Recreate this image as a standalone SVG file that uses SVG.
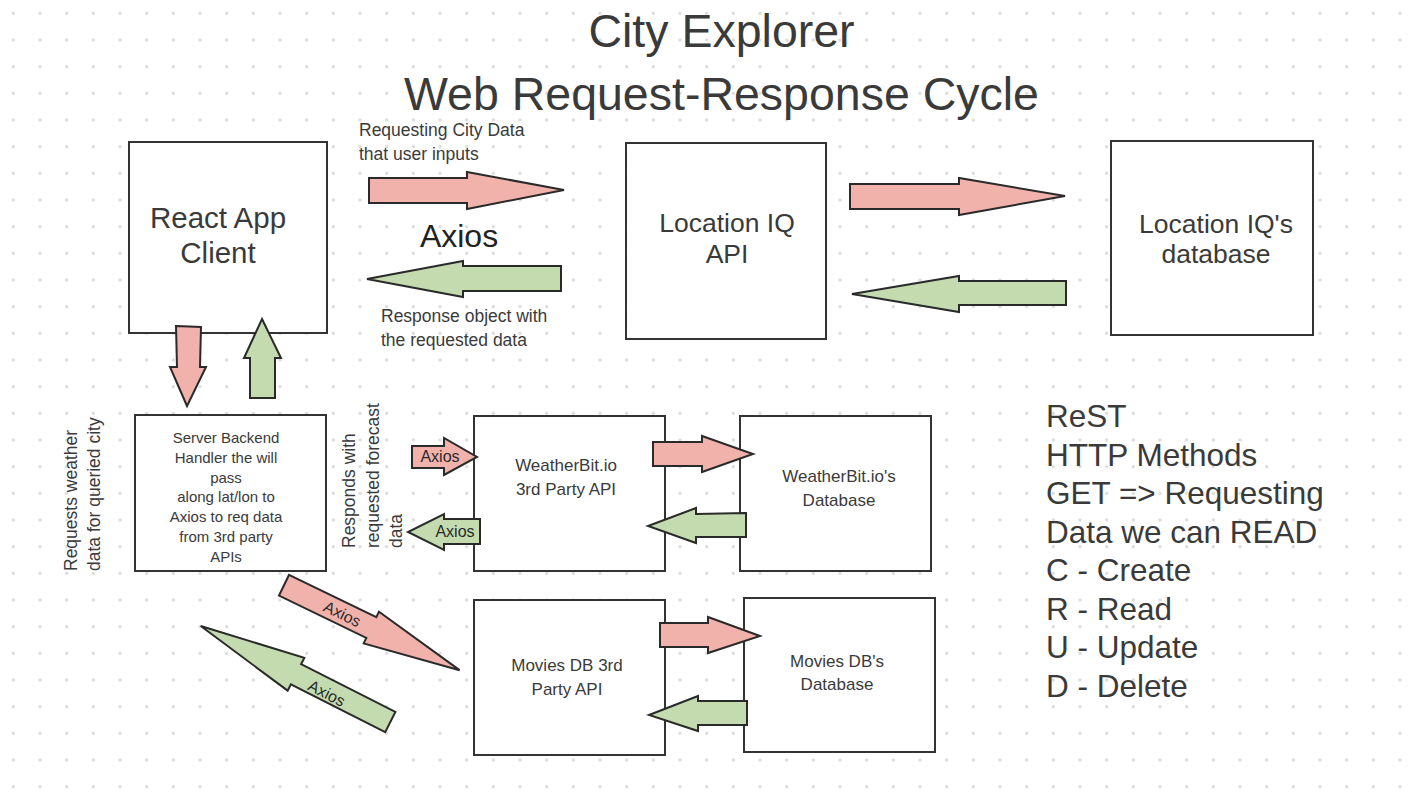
<svg xmlns="http://www.w3.org/2000/svg" width="1422" height="800" viewBox="0 0 1422 800">
<style>
text{font-family:"Liberation Sans",Arial,sans-serif;fill:#3a3a3a}
.box{fill:#fff;stroke:#333;stroke-width:2}
.pk{fill:#f2b2ac;stroke:#2a2a2a;stroke-width:2;stroke-linejoin:miter}
.gr{fill:#c3dbaf;stroke:#2a2a2a;stroke-width:2;stroke-linejoin:miter}
.big{font-size:29.5px;text-anchor:middle}
.mid{font-size:26.5px;text-anchor:middle}
.lbl{font-size:17.5px}
.nd{font-size:17px;text-anchor:middle}
.srv{font-size:15px;text-anchor:middle}
.ax{font-size:16px;text-anchor:middle;fill:#2a2a2a}
.rt{font-size:31.5px}
</style>
<defs>
<pattern id="dots" patternUnits="userSpaceOnUse" x="0" y="0" width="26.667" height="26.667">
<circle cx="13.333" cy="13.333" r="1.7" fill="#dcdcdc"/>
</pattern>
</defs>
<rect width="1422" height="800" fill="#fff"/>
<rect width="1422" height="800" fill="url(#dots)"/>

<g id="title">
<text x="721.5" y="47" font-size="46.5" text-anchor="middle">City Explorer</text>
<text x="721.5" y="110" font-size="46.5" text-anchor="middle">Web Request-Response Cycle</text>
</g>

<g id="react-client">
<rect class="box" x="129" y="142" width="198" height="191"/>
<text class="big" x="218" y="228">React App</text>
<text class="big" x="218" y="263">Client</text>
</g>
<g id="locationiq-api">
<rect class="box" x="626" y="143" width="200" height="196"/>
<text class="mid" x="727" y="232">Location IQ</text>
<text class="mid" x="727" y="263">API</text>
</g>
<g id="locationiq-db">
<rect class="box" x="1111" y="141" width="202" height="194"/>
<text class="mid" x="1216" y="233">Location IQ's</text>
<text class="mid" x="1216" y="263">database</text>
</g>
<g id="server-backend">
<rect class="box" x="135" y="415" width="191" height="156"/>
<text class="srv" x="226" y="443">Server Backend</text>
<text class="srv" x="226" y="462.8">Handler the will</text>
<text class="srv" x="226" y="482.6">pass</text>
<text class="srv" x="226" y="502.4">along lat/lon to</text>
<text class="srv" x="226" y="522.2">Axios to req data</text>
<text class="srv" x="226" y="542">from 3rd party</text>
<text class="srv" x="226" y="561.8">APIs</text>
</g>
<g id="weatherbit-api">
<rect class="box" x="474" y="416" width="191" height="155"/>
<text class="nd" x="566" y="471">WeatherBit.io</text>
<text class="nd" x="566" y="495">3rd Party API</text>
</g>
<g id="weatherbit-db">
<rect class="box" x="740" y="416" width="191" height="155"/>
<text class="nd" x="839" y="482">WeatherBit.io's</text>
<text class="nd" x="839" y="506">Database</text>
</g>
<g id="movies-api">
<rect class="box" x="474" y="600" width="191" height="155"/>
<text class="nd" x="567" y="671">Movies DB 3rd</text>
<text class="nd" x="567" y="695">Party API</text>
</g>
<g id="movies-db">
<rect class="box" x="744" y="598" width="191" height="154"/>
<text class="nd" x="837" y="667">Movies DB's</text>
<text class="nd" x="837" y="690">Database</text>
</g>

<g id="connectors">
<polygon class="pk" points="369,178 467,178 467,172 564,190 467,209 467,203 369,203"/>
<polygon class="gr" points="561,266 463,266 463,261 367,279 463,297 463,291 561,291"/>
<polygon class="pk" points="850,184 959,184 959,178 1065,196 959,215 959,209 850,209"/>
<polygon class="gr" points="1066,281 959,281 959,276 852,294 959,312 959,305 1066,305"/>
<polygon class="pk" points="176,326 201,327 200,367 206,367 187,406 170,367 177,367"/>
<polygon class="gr" points="262,319 281,358 275,358 275,398 250,398 250,358 244,358"/>
<polygon class="pk" points="653,442 702,442 702,436 753,454 702,472 702,466 653,466"/>
<polygon class="gr" points="746,513 696,514 696,508 648,526 696,543 696,537 746,537"/>
<polygon class="pk" points="660,623 708,623 708,617 760,636 708,653 708,647 660,647"/>
<polygon class="gr" points="747,701 698,701 698,696 649,715 698,731 698,725 747,725"/>
<g id="axios-req-weather">
<polygon class="pk" points="412,446 444,446 444,438 477,457 444,475 444,468 412,468"/>
<text class="ax" x="440" y="462">Axios</text>
</g>
<g id="axios-res-weather">
<polygon class="gr" points="480,519 444,519 444,514 408,532 444,550 444,544 480,544"/>
<text class="ax" x="455" y="537">Axios</text>
</g>
<g id="axios-req-movies" transform="translate(284,585.3) rotate(25.8)">
<polygon class="pk" points="0,-11.5 97,-11.5 97,-17.6 195,0 97,17.6 97,11.5 0,11.5"/>
<text class="ax" x="65" y="6">Axios</text>
</g>
<g id="axios-res-movies">
<polygon class="gr" transform="translate(390.3,722) rotate(206.85)" points="0,-11.3 105.7,-11.3 105.7,-18.4 212.5,0 105.7,18.4 105.7,11.3 0,11.3"/>
<text class="ax" transform="translate(326.7,693.3) rotate(26.85)" x="0" y="5.5">Axios</text>
</g>
</g>

<g id="labels">
<text class="lbl" x="359" y="136">Requesting City Data</text>
<text class="lbl" x="359" y="160">that user inputs</text>
<text x="459" y="247" font-size="32" text-anchor="middle" style="fill:#222">Axios</text>
<text class="lbl" x="381" y="322">Response object with</text>
<text class="lbl" x="381" y="346">the requested data</text>
<text class="lbl" transform="translate(77,571) rotate(-90)">Requests weather</text>
<text class="lbl" transform="translate(100,571) rotate(-90)">data for queried city</text>
<text class="lbl" transform="translate(355,548) rotate(-90)">Responds with</text>
<text class="lbl" transform="translate(379,548) rotate(-90)">requested forecast</text>
<text class="lbl" transform="translate(402,548) rotate(-90)">data</text>
</g>

<g id="rest-notes">
<text class="rt" x="1046" y="427">ReST</text>
<text class="rt" x="1046" y="465.5">HTTP Methods</text>
<text class="rt" x="1046" y="504">GET =&gt; Requesting</text>
<text class="rt" x="1046" y="542.5">Data we can READ</text>
<text class="rt" x="1046" y="581">C - Create</text>
<text class="rt" x="1046" y="619.5">R - Read</text>
<text class="rt" x="1046" y="658">U - Update</text>
<text class="rt" x="1046" y="696.5">D - Delete</text>
</g>
</svg>
